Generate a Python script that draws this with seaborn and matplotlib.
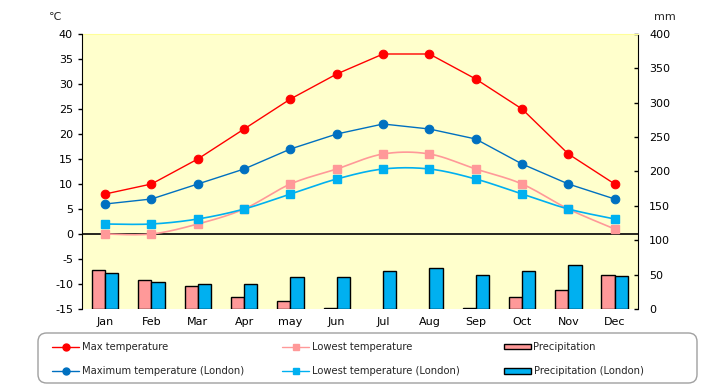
#!/usr/bin/env python3

import numpy as np
import pandas as pd
import matplotlib
matplotlib.use('Agg')
import matplotlib.pyplot as plt
from matplotlib.lines import Line2D
from matplotlib.patches import Patch, FancyBboxPatch
import seaborn as sns


months = ['Jan', 'Feb', 'Mar', 'Apr', 'may', 'Jun', 'Jul', 'Aug', 'Sep', 'Oct', 'Nov', 'Dec']
max_temp = [8, 10, 15, 21, 27, 32, 36, 36, 31, 25, 16, 10]
low_temp = [0, 0, 2, 5, 10, 13, 16, 16, 13, 10, 5, 1]
max_temp_london = [6, 7, 10, 13, 17, 20, 22, 21, 19, 14, 10, 7]
low_temp_london = [2, 2, 3, 5, 8, 11, 13, 13, 11, 8, 5, 3]
precip = [57, 42, 34, 18, 11, 1, 0, 0, 1, 17, 27, 50]
precip_london = [53, 40, 37, 37, 46, 46, 56, 59, 50, 56, 64, 48]

RED = '#FF0000'
DARK_BLUE = '#0070C0'
PINK = '#FF9999'
LIGHT_BLUE = '#00B0F0'
YELLOW_BG = '#FFFFCC'


def smooth(y, steps=20):
	# excel style smoothed line (bezier through the points)
	p = np.array(y, dtype=float)
	x = np.arange(len(p), dtype=float)
	pts = np.column_stack([x, p])
	ext = np.vstack([pts[0], pts, pts[-1]])
	out = []
	t = np.linspace(0, 1, steps)[:, None]
	for i in range(len(pts) - 1):
		p0 = ext[i + 1]
		p3 = ext[i + 2]
		c1 = p0 + (ext[i + 2] - ext[i]) / 6
		c2 = p3 - (ext[i + 3] - ext[i + 1]) / 6
		seg = (1 - t) ** 3 * p0 + 3 * (1 - t) ** 2 * t * c1 + 3 * (1 - t) * t ** 2 * c2 + t ** 3 * p3
		out.append(seg)
	out = np.vstack(out)
	return out[:, 0], out[:, 1]


sns.set_style('white')
plt.rcParams['font.family'] = ['DejaVu Sans']
plt.rcParams['axes.unicode_minus'] = False

W, H = 720, 385
fig = plt.figure(figsize=(W / 100, H / 100), dpi=100)
ax = fig.add_axes([0.1139, 0.1974, 0.772, 0.7143])
ax2 = ax.twinx()

# bars on the precipitation axis, lines on top of them
data = pd.DataFrame({
	'Month': months * 2,
	'Series': ['Precipitation'] * 12 + ['Precipitation (London)'] * 12,
	'mm': precip + precip_london,
})
sns.barplot(data=data, x='Month', y='mm', hue='Series', ax=ax2,
			palette={'Precipitation': PINK, 'Precipitation (London)': LIGHT_BLUE},
			width=0.57, edgecolor='black', linewidth=1, legend=False, saturation=1)
# empty months show no outline
for bar in ax2.patches:
	if bar.get_height() == 0:
		bar.set_linewidth(0)

ax.set_zorder(ax2.get_zorder() + 1)
ax.patch.set_visible(False)
ax2.patch.set_visible(True)
ax2.patch.set_facecolor(YELLOW_BG)

pos = np.arange(len(months))
ax.axhline(0, color='black', lw=1.2, zorder=1)

sns.lineplot(x=pos, y=max_temp, ax=ax, color=RED, marker='o', markersize=6.2,
			 markeredgecolor=RED, lw=1, zorder=4)
sns.lineplot(x=pos, y=max_temp_london, ax=ax, color=DARK_BLUE, marker='o', markersize=6.2,
			 markeredgecolor=DARK_BLUE, lw=1, zorder=4)

for vals, col in [(low_temp, PINK), (low_temp_london, LIGHT_BLUE)]:
	sx, sy = smooth(vals)
	ax.plot(sx, sy, color=col, lw=1.2, zorder=3)
	ax.plot(pos, vals, linestyle='none', marker='s', markersize=5.8, color=col, zorder=3)

ax.set_xlim(-0.5, 11.5)
ax.set_ylim(-15, 40)
ax.set_yticks(range(-15, 41, 5))
ax2.set_ylim(0, 400)
ax2.set_yticks(range(0, 401, 50))
ax.set_xticks(pos)
ax.set_xticklabels(months)
ax.set_xlabel('')
ax.set_ylabel('')
ax2.set_xlabel('')
ax2.set_ylabel('')

for a in (ax, ax2):
	a.tick_params(labelsize=8, colors='black', length=3, width=1)
	for s in a.spines.values():
		s.set_visible(False)
ax.tick_params(axis='x', length=0, pad=6)
ax.tick_params(axis='y', direction='out', left=True)
ax2.tick_params(axis='y', direction='in', right=True, pad=8)
ax2.tick_params(axis='x', length=0)
ax.spines['left'].set_visible(True)
ax.spines['left'].set_color('black')
ax2.spines['right'].set_visible(True)
ax2.spines['right'].set_color('black')
ax2.spines['top'].set_visible(True)
ax2.spines['top'].set_color('#FFFF99')

fig.text(0.076, 0.955, '℃', fontsize=8, ha='center', va='center')
fig.text(0.924, 0.955, 'mm', fontsize=8, ha='center', va='center')

# legend: rounded frame with three columns of two entries
frame = FancyBboxPatch((38 / W, 2 / H), 659 / W, 50 / H, transform=fig.transFigure,
					   boxstyle='round,pad=0,rounding_size=0.012', mutation_aspect=W / H,
					   facecolor='white', edgecolor='#A0A0A0', lw=1)
fig.patches.append(frame)

columns = [
	(52, [Line2D([], [], color=RED, marker='o', markersize=5, lw=1),
		  Line2D([], [], color=DARK_BLUE, marker='o', markersize=5, lw=1)],
	 ['Max temperature', 'Maximum temperature (London)']),
	(282, [Line2D([], [], color=PINK, marker='s', markersize=5, lw=1),
		   Line2D([], [], color=LIGHT_BLUE, marker='s', markersize=5, lw=1)],
	 ['Lowest temperature', 'Lowest temperature (London)']),
	(504, [Patch(facecolor=PINK, edgecolor='black'),
		   Patch(facecolor=LIGHT_BLUE, edgecolor='black')],
	 ['Precipitation', 'Precipitation (London)']),
]
for x0, hs, ls in columns:
	leg = fig.legend(hs, ls, loc='upper left', bbox_to_anchor=(x0 / W, (H - 342) / H),
					 fontsize=7.2, frameon=False, handlelength=2.7, handleheight=0.5,
					 handletextpad=0.25, borderpad=0, borderaxespad=0, labelspacing=1.45)

plt.savefig('out.png', dpi=100)
